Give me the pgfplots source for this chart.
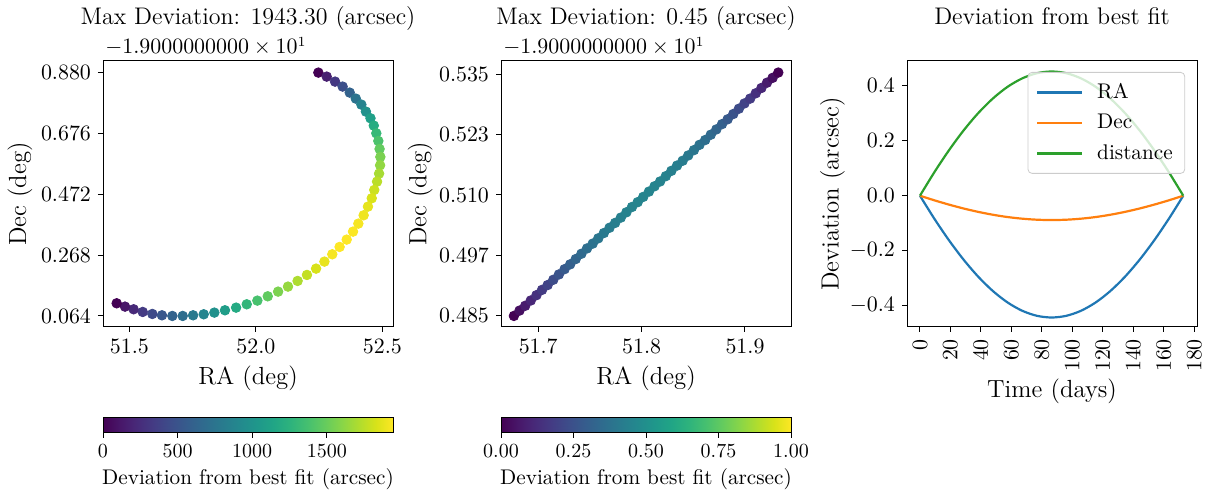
\documentclass[border=0pt]{standalone}
\usepackage{pgfplots}
\pgfplotsset{compat=1.18}
\definecolor{tabblue}{HTML}{1F77B4}
\definecolor{taborange}{HTML}{FF7F0E}
\definecolor{tabgreen}{HTML}{2CA02C}
\pgfplotsset{
  myaxis/.style={
    scale only axis, width=145pt, height=133pt, anchor=south west,
    clip mode=individual,
    axis line style={line width=0.5pt},
    tick align=outside, xtick pos=bottom, ytick pos=left,
    major tick length=2.5pt,
    every tick/.style={black, line width=0.5pt},
    ticklabel style={font=\fontsize{10.6}{12}\selectfont},
    label style={font=\fontsize{12.4}{14}\selectfont},
    title style={font=\fontsize{12}{14}\selectfont, at={(0.5,1)}, anchor=base, yshift=12pt},
    xlabel style={at={(axis description cs:0.5,0)}, anchor=base, yshift=-29pt},
  },
  cbaxis/.style={
    scale only axis, width=145pt, height=7.5pt, anchor=north west,
    ymin=0, ymax=1, ytick=\empty, axis on top, colormap/viridis,
    axis line style={line width=0.5pt},
    tick align=outside, xtick pos=bottom,
    major tick length=2.5pt,
    every tick/.style={black, line width=0.5pt},
    ticklabel style={font=\fontsize{10.4}{12}\selectfont},
    label style={font=\fontsize{10.6}{12}\selectfont},
    xlabel={Deviation from best fit (arcsec)},
    xlabel style={at={(axis description cs:0.5,0)}, anchor=base, yshift=-26pt},
  },
  myscatter/.style={scatter, only marks, mark=*, mark size=2.4pt, scatter src=explicit,
    scatter/use mapped color={draw=mapped color, fill=mapped color}},
}
\begin{document}
\begin{tikzpicture}
\useasboundingbox (0pt,0pt) rectangle (603.5pt,245pt);
% ---------------- Panel 1
\begin{axis}[myaxis, at={(51.5pt,81.5pt)},
  xmin=51.396, xmax=52.542, ymin=0.027, ymax=0.919,
  xtick={51.5,52,52.5}, xticklabels={$51.5$,$52.0$,$52.5$},
  ytick={0.064,0.268,0.472,0.676,0.880},
  yticklabels={$0.064$,$0.268$,$0.472$,$0.676$,$0.880$},
  xlabel={RA (deg)}, ylabel={Dec (deg)},
  ylabel style={at={(axis description cs:-0.286,0.5)}, anchor=center},
  title={Max Deviation: 1943.30 (arcsec)},
  colormap/viridis, point meta min=0, point meta max=1943.3,
]
\addplot[myscatter] table[x=x, y=y, meta=c] {
x y c
52.247 0.8800 0
52.280 0.8666 161.9
52.313 0.8498 316.7
52.343 0.8331 464.5
52.371 0.8129 605.3
52.395 0.7928 739.0
52.417 0.7727 865.6
52.435 0.7492 985.3
52.453 0.7269 1097.9
52.466 0.7023 1203.5
52.476 0.6766 1302.0
52.484 0.6508 1393.5
52.489 0.6240 1477.9
52.492 0.5972 1555.4
52.491 0.5692 1625.8
52.487 0.5413 1689.1
52.479 0.5145 1745.4
52.468 0.4865 1794.6
52.458 0.4586 1836.9
52.443 0.4306 1872.0
52.426 0.4016 1900.2
52.405 0.3736 1921.3
52.384 0.3468 1935.4
52.359 0.3200 1942.4
52.331 0.2954 1943.3
52.302 0.2708 1920
52.271 0.2462 1880
52.238 0.2227 1830
52.202 0.2015 1770
52.165 0.1814 1710
52.127 0.1624 1640
52.088 0.1456 1560
52.047 0.1299 1470
52.006 0.1154 1380
51.964 0.1031 1280
51.922 0.0919 1180
51.878 0.0830 1080
51.836 0.0752 980
51.794 0.0696 880
51.752 0.0662 790
51.711 0.0640 700
51.670 0.0640 610
51.629 0.0662 520
51.591 0.0707 430
51.553 0.0774 330
51.517 0.0864 220
51.483 0.0953 110
51.450 0.1065 0
};
\node[anchor=base west, inner sep=0pt, xshift=1pt, yshift=3.5pt, font=\fontsize{10.6}{12}\selectfont] at (rel axis cs:0,1) {$-1.9000000000\times10^{1}$};
\end{axis}
% colorbar 1
\begin{axis}[cbaxis, at={(51.5pt,36pt)},
  xmin=0, xmax=1943.3, point meta min=0, point meta max=1943.3,
  xtick={0,500,1000,1500}, xticklabels={$0$,$500$,$1000$,$1500$}]
\addplot[surf, shader=interp, point meta=x, mesh/cols=2] coordinates {(0,0) (1943.3,0) (0,1) (1943.3,1)};
\end{axis}
% ---------------- Panel 2
\begin{axis}[myaxis, at={(250.5pt,81.5pt)},
  xmin=51.664, xmax=51.9445, ymin=0.4826, ymax=0.5378,
  xtick={51.7,51.8,51.9}, xticklabels={$51.7$,$51.8$,$51.9$},
  ytick={0.485,0.4975,0.51,0.5225,0.535},
  yticklabels={$0.485$,$0.497$,$0.510$,$0.523$,$0.535$},
  xlabel={RA (deg)}, ylabel={Dec (deg)},
  ylabel style={at={(axis description cs:-0.279,0.5)}, anchor=center},
  title={Max Deviation: 0.45 (arcsec)},
  colormap/viridis, point meta min=0, point meta max=1,
]
\addplot[myscatter] table[x=x, y=y, meta=c] {
x y c
51.6765 0.4849 0
51.6819 0.4860 0.037
51.6874 0.4870 0.073
51.6928 0.4881 0.108
51.6983 0.4892 0.140
51.7037 0.4903 0.171
51.7091 0.4913 0.200
51.7146 0.4924 0.228
51.7200 0.4935 0.254
51.7255 0.4946 0.279
51.7309 0.4956 0.302
51.7363 0.4967 0.323
51.7418 0.4978 0.342
51.7472 0.4989 0.360
51.7527 0.4999 0.376
51.7581 0.5010 0.391
51.7635 0.5021 0.404
51.7690 0.5032 0.416
51.7744 0.5042 0.425
51.7799 0.5053 0.433
51.7853 0.5064 0.440
51.7907 0.5075 0.445
51.7962 0.5085 0.448
51.8016 0.5096 0.450
51.8071 0.5107 0.450
51.8125 0.5118 0.448
51.8179 0.5128 0.445
51.8234 0.5139 0.440
51.8288 0.5150 0.433
51.8343 0.5161 0.425
51.8397 0.5171 0.416
51.8451 0.5182 0.404
51.8506 0.5193 0.391
51.8560 0.5204 0.376
51.8615 0.5214 0.360
51.8669 0.5225 0.342
51.8723 0.5236 0.323
51.8778 0.5247 0.302
51.8832 0.5257 0.279
51.8887 0.5268 0.254
51.8941 0.5279 0.228
51.8995 0.5290 0.200
51.9050 0.5300 0.171
51.9104 0.5311 0.140
51.9159 0.5322 0.108
51.9213 0.5333 0.073
51.9267 0.5343 0.037
51.9322 0.5354 0
};
\node[anchor=base west, inner sep=0pt, xshift=1pt, yshift=3.5pt, font=\fontsize{10.6}{12}\selectfont] at (rel axis cs:0,1) {$-1.9000000000\times10^{1}$};
\end{axis}
% colorbar 2
\begin{axis}[cbaxis, at={(250.5pt,36pt)},
  xmin=0, xmax=1, point meta min=0, point meta max=1,
  xtick={0,0.25,0.5,0.75,1}, xticklabels={$0.00$,$0.25$,$0.50$,$0.75$,$1.00$}]
\addplot[surf, shader=interp, point meta=x, mesh/cols=2] coordinates {(0,0) (1,0) (0,1) (1,1)};
\end{axis}
% ---------------- Panel 3
\begin{axis}[myaxis, at={(453.5pt,81.5pt)},
  xmin=-8.5, xmax=181.8, ymin=-0.4775, ymax=0.49,
  xtick={0,20,...,180},
  xticklabels={$0$,$20$,$40$,$60$,$80$,$100$,$120$,$140$,$160$,$180$},
  xticklabel style={rotate=90, anchor=east},
  ytick={-0.4,-0.2,0,0.2,0.4},
  yticklabels={$-0.4$,$-0.2$,$0.0$,$0.2$,$0.4$},
  xlabel={Time (days)}, ylabel={Deviation (arcsec)},
  xlabel style={yshift=-6.5pt},
  ylabel style={at={(axis description cs:-0.257,0.5)}, anchor=center},
  title={Deviation from best fit},
  legend style={at={(0.959,0.9586)}, anchor=north east, draw=black!20, rounded corners=2pt,
    fill=white, fill opacity=0.8, text opacity=1, draw opacity=1, font=\fontsize{10.6}{12}\selectfont,
    row sep=2.4pt, column sep=5pt, inner xsep=4pt, inner ysep=3.5pt},
  legend cell align=left,
  legend image code/.code={\draw[#1] (0pt,0pt) -- (22.5pt,0pt);},
  every axis plot/.append style={line width=1.1pt},
]
\addplot[tabblue, smooth] coordinates {
(0,0) (9.6,-0.0850) (19.2,-0.1633) (28.8,-0.2338) (38.4,-0.2955) (48.0,-0.3474)
(57.6,-0.3887) (67.2,-0.4187) (76.8,-0.4369) (86.4,-0.4430) (96.0,-0.4369)
(105.6,-0.4187) (115.2,-0.3887) (124.8,-0.3474) (134.4,-0.2955) (144.0,-0.2338)
(153.6,-0.1633) (163.2,-0.0850) (172.8,0)};
\addlegendentry{RA}
\addplot[taborange, smooth] coordinates {
(0,0) (9.6,-0.0170) (19.2,-0.0326) (28.8,-0.0467) (38.4,-0.0590) (48.0,-0.0694)
(57.6,-0.0777) (67.2,-0.0836) (76.8,-0.0873) (86.4,-0.0885) (96.0,-0.0873)
(105.6,-0.0836) (115.2,-0.0777) (124.8,-0.0694) (134.4,-0.0590) (144.0,-0.0467)
(153.6,-0.0326) (163.2,-0.0170) (172.8,0)};
\addlegendentry{Dec}
\addplot[tabgreen, smooth] coordinates {
(0,0) (9.6,0.0867) (19.2,0.1665) (28.8,0.2385) (38.4,0.3014) (48.0,0.3543)
(57.6,0.3965) (67.2,0.4270) (76.8,0.4456) (86.4,0.4518) (96.0,0.4456)
(105.6,0.4270) (115.2,0.3965) (124.8,0.3543) (134.4,0.3014) (144.0,0.2385)
(153.6,0.1665) (163.2,0.0867) (172.8,0)};
\addlegendentry{distance}
\end{axis}
\end{tikzpicture}
\end{document}
